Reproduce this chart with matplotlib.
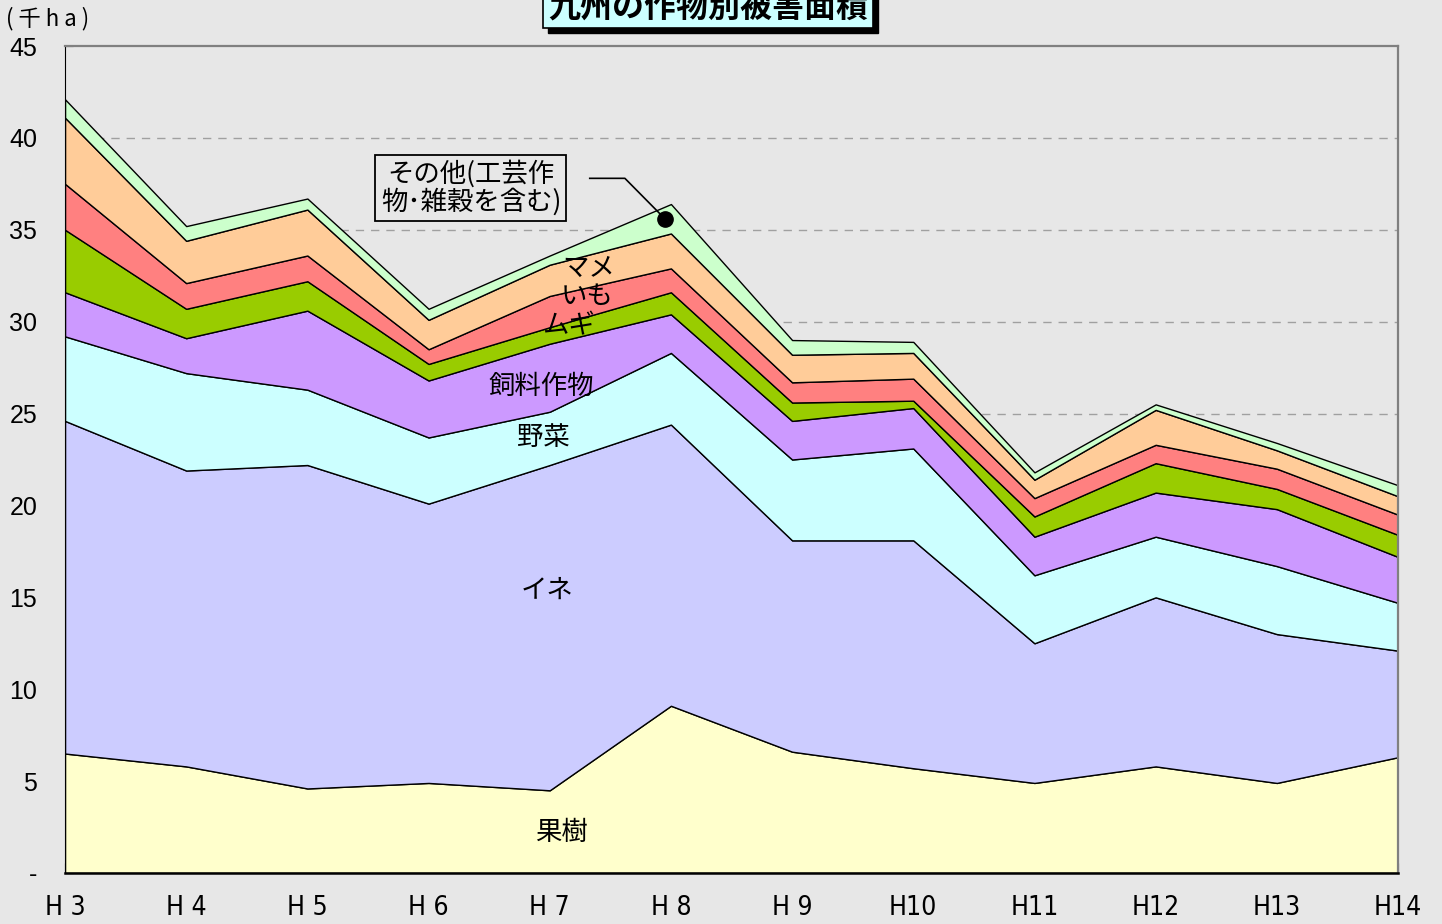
import matplotlib.pyplot as plt
import matplotlib.transforms as mtransforms
import numpy as np

# years (Heisei)
years = ["H 3", "H 4", "H 5", "H 6", "H 7", "H 8", "H 9", "H10", "H11", "H12", "H13", "H14"]

# damaged area by crop (thousand ha), bottom to top of the stack
fruit = [6.5, 5.8, 4.6, 4.9, 4.5, 9.1, 6.6, 5.7, 4.9, 5.8, 4.9, 6.3]          # 果樹
rice = [18.1, 16.1, 17.6, 15.2, 17.7, 15.3, 11.5, 12.4, 7.6, 9.2, 8.1, 5.8]   # イネ
vegetables = [4.6, 5.3, 4.1, 3.6, 2.9, 3.9, 4.4, 5.0, 3.7, 3.3, 3.7, 2.6]     # 野菜
fodder = [2.4, 1.9, 4.3, 3.1, 3.7, 2.1, 2.1, 2.2, 2.1, 2.4, 3.1, 2.5]         # 飼料作物
wheat = [3.4, 1.6, 1.6, 0.9, 0.9, 1.2, 1.0, 0.4, 1.1, 1.6, 1.1, 1.2]          # ムギ
potato = [2.5, 1.4, 1.4, 0.8, 1.7, 1.3, 1.1, 1.2, 1.0, 1.0, 1.1, 1.1]         # いも
beans = [3.6, 2.3, 2.5, 1.6, 1.7, 1.9, 1.5, 1.4, 1.0, 1.9, 1.0, 1.0]          # マメ
other = [1.0, 0.8, 0.6, 0.6, 0.5, 1.6, 0.8, 0.6, 0.4, 0.3, 0.4, 0.6]          # その他

series = [fruit, rice, vegetables, fodder, wheat, potato, beans, other]
colors = ["#ffffcc", "#ccccff", "#ccffff", "#cc99ff", "#99cc00", "#ff8080", "#ffcc99", "#ccffcc"]
names = ["果樹", "イネ", "野菜", "飼料作物", "ムギ", "いも", "マメ"]
name_pos = [(4.10, 2.2), (3.98, 15.4), (3.95, 23.7), (3.93, 26.5),
            (4.15, 29.8), (4.31, 31.35), (4.32, 32.9)]

jp = ["Noto Sans CJK JP", "DejaVu Sans"]
bg = "#e7e7e7"

fig = plt.figure(figsize=(14.42, 9.24), dpi=100, facecolor=bg)
ax = fig.add_axes([0.0451, 0.0552, 0.9244, 0.8950], facecolor=bg)

x = np.arange(len(years))
ax.stackplot(x, *series, colors=colors, edgecolor="black", linewidth=1.0, zorder=2)

ax.set_xlim(0, len(years) - 1)
ax.set_ylim(0, 45)
ax.set_yticks(np.arange(0, 46, 5))
ax.set_yticklabels(["-"] + [str(v) for v in range(5, 46, 5)])
ax.set_xticks(x)
ax.set_xticklabels(years)
for lab in ax.get_yticklabels():
    lab.set_family(["Liberation Sans", "DejaVu Sans"])
    lab.set_fontsize(18)
for lab in ax.get_xticklabels():
    lab.set_family("DejaVu Sans")
    lab.set_fontstretch("condensed")
    lab.set_fontsize(19)
ax.tick_params(axis="y", direction="in", length=6, pad=20)
ax.tick_params(axis="x", direction="in", length=7, pad=16)

for v in range(5, 45, 5):
    ax.axhline(v, color="#a0a0a0", linestyle=(0, (6, 5)), linewidth=1.0, zorder=1)

ax.spines["left"].set_color("black")
ax.spines["bottom"].set_color("black")
ax.spines["bottom"].set_linewidth(1.8)
ax.spines["top"].set_color("#808080")
ax.spines["right"].set_color("#808080")
ax.spines["top"].set_linewidth(1.6)
ax.spines["right"].set_linewidth(1.6)

# labels inside the areas
for name, (px, py) in zip(names, name_pos):
    ax.text(px, py, name, family=jp, fontsize=19, ha="center", va="center", zorder=5)

# "other" callout pointing at H8
cum = np.cumsum(series, axis=0)
i8 = years.index("H 8")
dot_y = cum[-1][i8] - other[i8] / 2
ax.plot([4.33, 4.62, i8 - 0.05], [37.8, 37.8, dot_y], color="black", linewidth=1.2, zorder=6)
ax.plot(i8 - 0.05, dot_y, "o", color="black", markersize=11, zorder=7)
fig.text(0.3266, 0.797, "その他(工芸作\n物･雑穀を含む)", family=jp, fontsize=19,
         ha="center", va="center", linespacing=1.0,
         bbox=dict(boxstyle="square,pad=0.2", facecolor="none", edgecolor="black", linewidth=1.3))

# unit label
fig.text(0.004, 0.980, "( 千 h a )", family=jp, fontsize=16, ha="left", va="center")

# title box with drop shadow
shadow = mtransforms.offset_copy(fig.transFigure, fig=fig, x=5, y=-5, units="dots")
fig.text(0.491, 0.992, "九州の作物別被害面積", family=jp, fontsize=23, fontweight="bold",
         ha="center", va="center", color="black", transform=shadow,
         bbox=dict(boxstyle="square,pad=0.15", facecolor="black", edgecolor="black"))
fig.text(0.491, 0.992, "九州の作物別被害面積", family=jp, fontsize=23, fontweight="bold",
         ha="center", va="center", color="black",
         bbox=dict(boxstyle="square,pad=0.15", facecolor="#ccffff", edgecolor="black", linewidth=1.2))

fig.savefig("out.png", dpi=100, facecolor=bg)
